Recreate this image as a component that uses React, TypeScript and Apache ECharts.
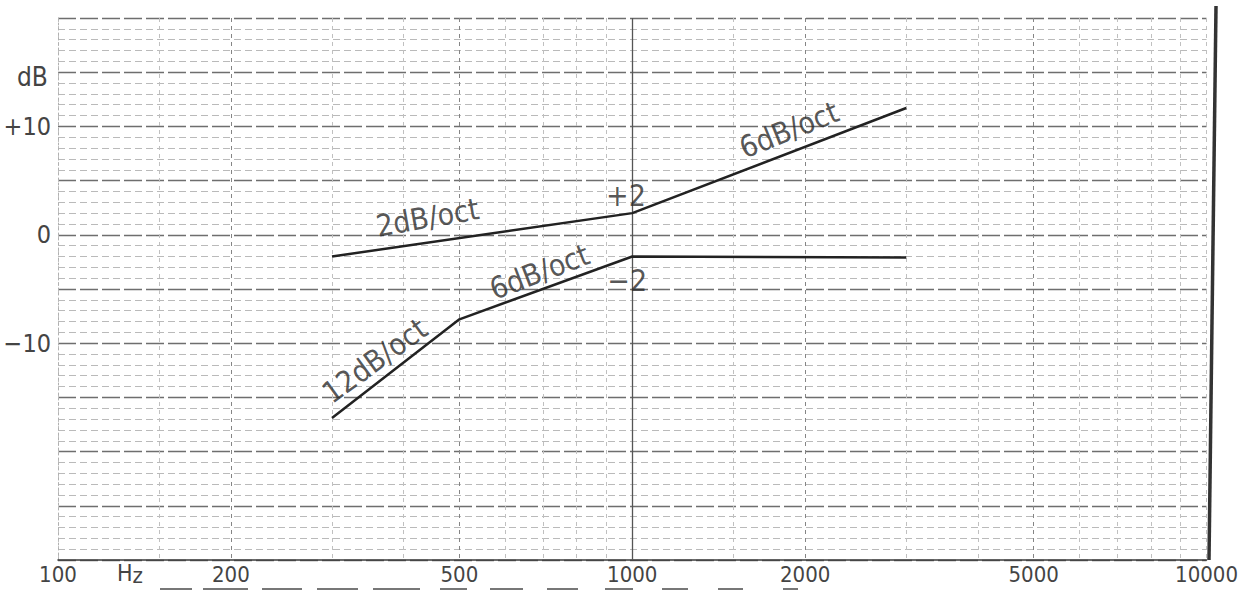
import React, { useEffect, useRef } from 'react';
import * as echarts from 'echarts';

// ---- data ----
const xTickValues = [100, 150, 200, 300, 400, 500, 600, 700, 800, 900, 1000, 1500, 2000, 3000, 4000, 5000, 6000, 7000, 8000, 9000, 10000];
const xMajorValues = [200, 500, 1000, 2000, 5000];
const xLabelValues = [100, 200, 500, 1000, 2000, 5000, 10000];
const yLabelValues = [10, 0, -10];
const yLabelTexts = ['+10', '0', '−10'];

const upperFreq = [300, 1000, 3000];
const upperDb = [-2.0, 2.0, 11.7];
const lowerFreq = [300, 500, 1000, 3000];
const lowerDb = [-16.9, -7.8, -2.0, -2.1];

const noteTexts = ['2dB/oct', '6dB/oct', '+2', '−2', '6dB/oct', '12dB/oct'];
const noteFreq = [440, 1875, 975, 980, 689, 356];
const noteDb = [1.6, 9.7, 3.6, -4.2, -3.4, -11.6];
const noteAngle = [10, 22, 0, 0, 21, 36];

const FONT = '"DejaVu Sans Condensed", "DejaVu Sans", sans-serif';

export default function App() {
  const ref = useRef<HTMLDivElement>(null);
  useEffect(() => {
    if (!ref.current) return;
    const chart = echarts.init(ref.current, undefined, { renderer: 'svg' });
    const splitColors = xTickValues.map((v) =>
      xMajorValues.indexOf(v) >= 0 ? '#858585' : '#c0c0c0'
    );
    const option: any = {
      animation: false,
      backgroundColor: '#ffffff',
      grid: { left: 58, right: 33, top: 18, bottom: 39, containLabel: false },
      xAxis: {
        type: 'log',
        logBase: 10,
        min: 100,
        max: 10000,
        axisLine: { show: true, onZero: false, lineStyle: { color: '#3a3a3a', width: 1.6 } },
        axisTick: { show: false, customValues: xTickValues },
        axisLabel: {
          customValues: xLabelValues,
          formatter: (v: number) => String(Math.round(v)),
          fontFamily: FONT,
          fontSize: 22,
          color: '#444444',
          margin: 3,
        },
        splitLine: {
          show: true,
          lineStyle: { color: splitColors, type: [4, 4], width: 1 },
        },
      },
      yAxis: {
        type: 'value',
        min: -30,
        max: 20,
        interval: 5,
        axisLine: { show: true, onZero: false, lineStyle: { color: '#b0b0b0', type: [2, 3], width: 1 } },
        axisTick: { show: false },
        axisLabel: {
          fontFamily: FONT,
          fontSize: 25,
          color: '#444444',
          margin: 7,
          formatter: (v: number) => {
            const i = yLabelValues.indexOf(v);
            return i >= 0 ? yLabelTexts[i] : '';
          },
        },
        splitLine: { show: true, lineStyle: { color: '#6e6e6e', type: [18, 4], width: 1.3 } },
        minorTick: { show: false, splitNumber: 5 },
        minorSplitLine: { show: true, lineStyle: { color: '#bababa', type: [7, 4], width: 1 } },
      },
      series: [
        {
          type: 'line',
          data: upperFreq.map((f, i) => [f, upperDb[i]]),
          symbol: 'none',
          lineStyle: { color: '#222222', width: 2.5 },
          z: 5,
          markLine: {
            silent: true,
            symbol: 'none',
            label: { show: false },
            lineStyle: { color: '#555', type: 'solid', width: 1.3 },
            data: [{ xAxis: 1000 }],
          },
        },
        {
          type: 'line',
          data: lowerFreq.map((f, i) => [f, lowerDb[i]]),
          symbol: 'none',
          lineStyle: { color: '#222222', width: 2.5 },
          z: 5,
        },
        {
          type: 'scatter',
          symbolSize: 0,
          z: 6,
          data: noteTexts.map((t, i) => ({
            name: t,
            value: [noteFreq[i], noteDb[i]],
            label: { rotate: noteAngle[i] },
          })),
          label: {
            show: true,
            position: 'inside',
            formatter: '{b}',
            fontFamily: FONT,
            fontSize: 30,
            color: '#2a2a2a',
          },
        },
      ],
      graphic: [
        {
          type: 'text',
          left: 17,
          top: 64,
          style: { text: 'dB', font: `26px ${FONT}`, fill: '#444444' },
        },
        {
          type: 'text',
          left: 117,
          top: 561,
          style: {
            text: '{h|H}{z|z}',
            rich: {
              h: { font: `23px ${FONT}`, fill: '#444444' },
              z: { font: `22px ${FONT}`, fill: '#444444', padding: [6, 0, 0, 0] },
            },
          },
        },
        {
          type: 'line',
          shape: { x1: 1216, y1: 6, x2: 1209, y2: 560 },
          style: { stroke: '#333', lineWidth: 3.5 },
        },
        ...[
          [160, 192], [203, 248], [262, 302], [317, 358], [373, 420], [440, 467],
          [490, 523], [547, 578], [605, 633], [662, 688], [718, 743], [783, 798],
        ].map(([a, b]) => ({
          type: 'line',
          shape: { x1: a, y1: 589, x2: b, y2: 589 },
          style: { stroke: '#777', lineWidth: 2 },
        })),
      ],
    };
    chart.setOption(option);
    return () => chart.dispose();
  }, []);
  return (
    <div
      ref={ref}
      style={{ position: 'fixed', left: 0, top: 0, width: 1241, height: 599, background: '#fff' }}
    />
  );
}
